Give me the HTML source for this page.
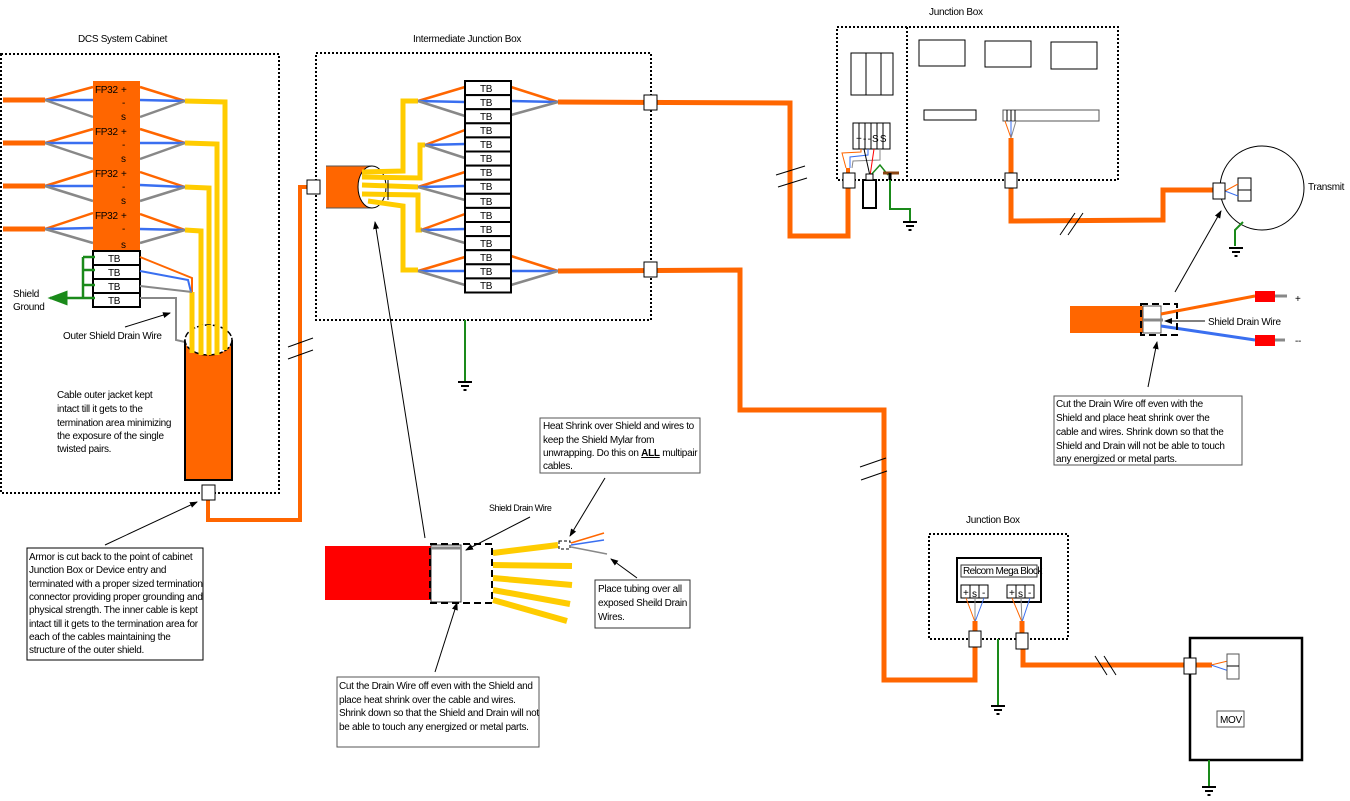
<!DOCTYPE html>
<html><head><meta charset="utf-8"><style>
html,body{margin:0;padding:0;background:#fff}
svg{display:block}
text{font-family:"Liberation Sans",sans-serif;font-size:10px;fill:#000;letter-spacing:-0.3px}
.tb{font-size:10px}
.n{font-size:9px;letter-spacing:-0.45px}
</style></head><body>
<svg width="1350" height="801" viewBox="0 0 1350 801" xmlns="http://www.w3.org/2000/svg">
<defs>
<marker id="ah" markerWidth="8" markerHeight="8" refX="7" refY="4" orient="auto"><path d="M0,1 L8,4 L0,7z" fill="#000"/></marker>
<marker id="ahg" markerWidth="8" markerHeight="8" refX="7" refY="4" orient="auto"><path d="M0,1 L8,4 L0,7z" fill="#1a8a1a"/></marker>
<g id="gnd"><line x1="-7" y1="0" x2="7" y2="0" stroke="#000" stroke-width="2"/><line x1="-4" y1="4" x2="4" y2="4" stroke="#000" stroke-width="2"/><line x1="-1.5" y1="8" x2="1.5" y2="8" stroke="#000" stroke-width="2"/></g>
</defs>

<!-- ===== DCS cabinet ===== -->
<text x="78" y="42">DCS System Cabinet</text>
<rect x="1" y="54" width="278" height="439" fill="none" stroke="#000" stroke-width="2" stroke-dasharray="2,2"/>
<g stroke-width="3" fill="none">
<line x1="3" y1="100" x2="45" y2="100" stroke="#f60" stroke-width="5"/>
<line x1="3" y1="143" x2="45" y2="143" stroke="#f60" stroke-width="5"/>
<line x1="3" y1="186" x2="45" y2="186" stroke="#f60" stroke-width="5"/>
<line x1="3" y1="229" x2="45" y2="229" stroke="#f60" stroke-width="5"/>
</g>
<g stroke-width="2.5">
<line x1="45" y1="100" x2="93" y2="87" stroke="#f60"/><line x1="45" y1="100" x2="93" y2="100" stroke="#3a6ff0"/><line x1="45" y1="100" x2="93" y2="117" stroke="#888"/>
<line x1="45" y1="143" x2="93" y2="129" stroke="#f60"/><line x1="45" y1="143" x2="93" y2="143" stroke="#3a6ff0"/><line x1="45" y1="143" x2="93" y2="159" stroke="#888"/>
<line x1="45" y1="186" x2="93" y2="171" stroke="#f60"/><line x1="45" y1="186" x2="93" y2="186" stroke="#3a6ff0"/><line x1="45" y1="186" x2="93" y2="201" stroke="#888"/>
<line x1="45" y1="229" x2="93" y2="213" stroke="#f60"/><line x1="45" y1="229" x2="93" y2="228" stroke="#3a6ff0"/><line x1="45" y1="229" x2="93" y2="243" stroke="#888"/>
<line x1="140" y1="87" x2="185" y2="101" stroke="#f60"/><line x1="140" y1="100" x2="185" y2="101" stroke="#3a6ff0"/><line x1="140" y1="117" x2="185" y2="101" stroke="#888"/>
<line x1="140" y1="129" x2="185" y2="143" stroke="#f60"/><line x1="140" y1="143" x2="185" y2="143" stroke="#3a6ff0"/><line x1="140" y1="159" x2="185" y2="143" stroke="#888"/>
<line x1="140" y1="172" x2="185" y2="187" stroke="#f60"/><line x1="140" y1="185" x2="185" y2="187" stroke="#3a6ff0"/><line x1="140" y1="201" x2="185" y2="187" stroke="#888"/>
<line x1="140" y1="214" x2="185" y2="230" stroke="#f60"/><line x1="140" y1="229" x2="185" y2="230" stroke="#3a6ff0"/><line x1="140" y1="243" x2="185" y2="230" stroke="#888"/>
</g>
<rect x="93" y="81" width="47" height="171" fill="#f60"/>
<g font-size="10"><text x="95" y="93">FP32</text><text x="121" y="93">+</text><text x="122" y="106">-</text><text x="121" y="120">s</text>
<text x="95" y="135">FP32</text><text x="121" y="135">+</text><text x="122" y="148">-</text><text x="121" y="162">s</text>
<text x="95" y="177">FP32</text><text x="121" y="177">+</text><text x="122" y="190">-</text><text x="121" y="204">s</text>
<text x="95" y="219">FP32</text><text x="121" y="219">+</text><text x="122" y="232">-</text><text x="121" y="248">s</text></g>
<g stroke="#fc0" stroke-width="5" fill="none">
<polyline points="185,101 225,102 225,355"/>
<polyline points="185,143 217,144 217,355"/>
<polyline points="185,187 209,188 209,355"/>
<polyline points="185,230 201,231 201,355"/>
<line x1="192" y1="292" x2="192" y2="355"/>
</g>
<g fill="#fff" stroke="#000" stroke-width="2">
<rect x="93" y="251" width="47" height="14"/><rect x="93" y="265" width="47" height="14"/><rect x="93" y="279" width="47" height="14"/><rect x="93" y="293" width="47" height="14"/></g>
<g class="tb"><text x="108" y="262">TB</text><text x="108" y="276">TB</text><text x="108" y="290">TB</text><text x="108" y="304">TB</text></g>
<g stroke-width="2" fill="none">
<polyline points="140,257 192,278 192,292" stroke="#f60"/>
<polyline points="140,271 188,280 191,292" stroke="#3a6ff0"/>
<line x1="140" y1="286" x2="192" y2="292" stroke="#888"/>
<polyline points="140,298 176,298 176,340 185,342" stroke="#888"/>
</g>
<g stroke="#1a8a1a" stroke-width="2.5" fill="none">
<line x1="83" y1="257" x2="83" y2="298"/>
<line x1="83" y1="257" x2="95" y2="257"/><line x1="83" y1="270" x2="95" y2="270"/><line x1="83" y1="285" x2="95" y2="285"/><line x1="83" y1="298" x2="95" y2="298"/>
<line x1="83" y1="298" x2="50" y2="298" marker-end="url(#ahg)"/>
</g>
<text x="13" y="297">Shield</text><text x="13" y="310">Ground</text>
<text x="63" y="339">Outer Shield Drain Wire</text>
<line x1="125" y1="327" x2="170" y2="313" stroke="#000" marker-end="url(#ah)"/>
<path d="M185,340 L185,480 L232,480 L232,340" fill="#f60" stroke="#000" stroke-width="2"/>
<ellipse cx="208.5" cy="340" rx="23.5" ry="15" fill="#fff" stroke="#000" stroke-width="1.5" stroke-dasharray="6,2"/>
<g stroke="#fc0" stroke-width="5"><line x1="192" y1="325" x2="192" y2="353"/><line x1="201" y1="325" x2="201" y2="355"/><line x1="209" y1="325" x2="209" y2="355"/><line x1="217" y1="325" x2="217" y2="355"/><line x1="225" y1="325" x2="225" y2="350"/></g>
<g class="n"><text x="57" y="398">Cable outer jacket kept</text><text x="57" y="412">intact till it gets to the</text><text x="57" y="426">termination area minimizing</text><text x="57" y="439">the exposure of the single</text><text x="57" y="452">twisted pairs.</text></g>
<polyline points="208,492 208,520 300,520 300,187 313,187" fill="none" stroke="#f60" stroke-width="4"/>
<rect x="202" y="485" width="13" height="15" fill="#fff" stroke="#000"/>
<line x1="288" y1="347" x2="313" y2="338" stroke="#000"/><line x1="288" y1="359" x2="313" y2="350" stroke="#000"/>
<rect x="27" y="548" width="176" height="112" fill="#fff" stroke="#000"/>
<g class="n"><text x="29" y="560">Armor is cut back to the point of cabinet</text><text x="29" y="573">Junction Box or Device entry and</text><text x="29" y="587">terminated with a proper sized termination</text><text x="29" y="600">connector providing proper grounding and</text><text x="29" y="613">physical strength. The inner cable is kept</text><text x="29" y="627">intact till it gets to the termination area for</text><text x="29" y="640">each of the cables maintaining the</text><text x="29" y="653">structure of the outer shield.</text></g>
<line x1="105" y1="545" x2="197" y2="502" stroke="#000" marker-end="url(#ah)"/>

<!-- ===== Intermediate JB ===== -->
<text x="413" y="42">Intermediate Junction Box</text>
<rect x="316" y="53" width="335" height="267" fill="none" stroke="#000" stroke-width="2" stroke-dasharray="2,2"/>
<line x1="465" y1="320" x2="465" y2="381" stroke="#1a8a1a" stroke-width="2"/>
<use href="#gnd" x="465" y="382"/>
<rect x="326" y="166" width="46" height="42" fill="#f60"/>
<line x1="326" y1="166" x2="372" y2="166" stroke="#555"/><line x1="326" y1="208" x2="372" y2="208" stroke="#555"/>
<ellipse cx="372" cy="187" rx="14" ry="21" fill="#fff" stroke="#000"/>
<rect x="307" y="180" width="13" height="14" fill="#fff" stroke="#000"/>
<g stroke="#fc0" stroke-width="5" fill="none">
<polyline points="362,172 403,171 403,101 418,101"/>
<polyline points="362,177 420,178 420,145 425,145"/>
<polyline points="362,185 418,187"/>
<polyline points="362,194 418,195 418,230 422,230"/>
<polyline points="368,201 403,206 403,270 418,270"/>
</g>
<line x1="388" y1="180" x2="388" y2="200" stroke="#000"/>
<g stroke-width="2.5">
<line x1="418" y1="101" x2="465" y2="87" stroke="#f60"/><line x1="418" y1="101" x2="465" y2="102" stroke="#3a6ff0"/><line x1="418" y1="101" x2="465" y2="116" stroke="#888"/>
<line x1="425" y1="145" x2="465" y2="130" stroke="#f60"/><line x1="425" y1="145" x2="465" y2="144" stroke="#3a6ff0"/><line x1="425" y1="145" x2="465" y2="158" stroke="#888"/>
<line x1="418" y1="187" x2="465" y2="172" stroke="#f60"/><line x1="418" y1="187" x2="465" y2="186" stroke="#3a6ff0"/><line x1="418" y1="187" x2="465" y2="200" stroke="#888"/>
<line x1="421" y1="230" x2="465" y2="214" stroke="#f60"/><line x1="421" y1="230" x2="465" y2="229" stroke="#3a6ff0"/><line x1="421" y1="230" x2="465" y2="243" stroke="#888"/>
<line x1="418" y1="271" x2="465" y2="257" stroke="#f60"/><line x1="418" y1="271" x2="465" y2="271" stroke="#3a6ff0"/><line x1="418" y1="271" x2="465" y2="285" stroke="#888"/>
<line x1="511" y1="87" x2="558" y2="102" stroke="#f60"/><line x1="511" y1="101" x2="558" y2="102" stroke="#3a6ff0"/><line x1="511" y1="115" x2="558" y2="102" stroke="#888"/>
<line x1="511" y1="256" x2="558" y2="271" stroke="#f60"/><line x1="511" y1="271" x2="558" y2="271" stroke="#3a6ff0"/><line x1="511" y1="285" x2="558" y2="271" stroke="#888"/>
</g>
<g fill="#fff" stroke="#000" stroke-width="2">
<rect x="465" y="81" width="46" height="14.1"/><rect x="465" y="95.1" width="46" height="14.1"/><rect x="465" y="109.2" width="46" height="14.1"/><rect x="465" y="123.3" width="46" height="14.1"/><rect x="465" y="137.4" width="46" height="14.1"/><rect x="465" y="151.5" width="46" height="14.1"/><rect x="465" y="165.6" width="46" height="14.1"/><rect x="465" y="179.7" width="46" height="14.1"/><rect x="465" y="193.8" width="46" height="14.1"/><rect x="465" y="207.9" width="46" height="14.1"/><rect x="465" y="222" width="46" height="14.1"/><rect x="465" y="236.1" width="46" height="14.1"/><rect x="465" y="250.2" width="46" height="14.1"/><rect x="465" y="264.3" width="46" height="14.1"/><rect x="465" y="278.4" width="46" height="14.1"/></g>
<g class="tb"><text x="480" y="92">TB</text><text x="480" y="106">TB</text><text x="480" y="120">TB</text><text x="480" y="134">TB</text><text x="480" y="148">TB</text><text x="480" y="162">TB</text><text x="480" y="176">TB</text><text x="480" y="190">TB</text><text x="480" y="205">TB</text><text x="480" y="219">TB</text><text x="480" y="233">TB</text><text x="480" y="247">TB</text><text x="480" y="261">TB</text><text x="480" y="275">TB</text><text x="480" y="289">TB</text></g>
<g fill="none" stroke="#f60" stroke-width="5">
<polyline points="558,102 790,103 790,236 848,236 848,188"/>
<polyline points="558,271 740,270 740,410 884,410 884,680 975,680 975,645"/>
<polyline points="1011,188 1011,221 1163,220 1163,190 1215,190"/>
<polyline points="1023,645 1023,665 1185,665"/>
</g>
<rect x="644" y="95" width="13" height="15" fill="#fff" stroke="#000"/>
<rect x="644" y="262" width="13" height="15" fill="#fff" stroke="#000"/>
<g stroke="#000"><line x1="776" y1="175" x2="805" y2="166"/><line x1="778" y1="187" x2="807" y2="178"/>
<line x1="860" y1="467" x2="886" y2="458"/><line x1="861" y1="480" x2="887" y2="471"/>
<line x1="1060" y1="235" x2="1075" y2="213"/><line x1="1068" y1="235" x2="1083" y2="213"/>
<line x1="1095" y1="656" x2="1107" y2="675"/><line x1="1104" y1="656" x2="1116" y2="675"/></g>

<!-- ===== Top Junction Box ===== -->
<text x="929" y="15">Junction Box</text>
<rect x="837" y="27" width="281" height="153" fill="none" stroke="#000" stroke-width="2" stroke-dasharray="2,2"/>
<line x1="907" y1="27" x2="907" y2="180" stroke="#000" stroke-width="2" stroke-dasharray="2,2"/>
<rect x="851" y="53" width="42" height="42" fill="#fff" stroke="#000"/><line x1="866" y1="53" x2="866" y2="95" stroke="#000"/><line x1="881" y1="53" x2="881" y2="95" stroke="#000"/>
<rect x="853" y="123" width="37" height="26" fill="#fff" stroke="#000"/>
<g stroke="#000"><line x1="859" y1="123" x2="859" y2="149"/><line x1="865" y1="123" x2="865" y2="149"/><line x1="871" y1="123" x2="871" y2="149"/><line x1="877" y1="123" x2="877" y2="149"/><line x1="883" y1="123" x2="883" y2="149"/></g>
<text x="856" y="142" font-size="8" style="letter-spacing:-0.8px">+ - - S S</text>
<rect x="919" y="40" width="46" height="26" fill="#fff" stroke="#000"/>
<rect x="985" y="41" width="46" height="26" fill="#fff" stroke="#000"/>
<rect x="1051" y="42" width="46" height="27" fill="#fff" stroke="#000"/>
<rect x="924" y="110" width="52" height="10" fill="#fff" stroke="#000"/>
<rect x="1003" y="110" width="96" height="11" fill="#fff" stroke="#555"/>
<g stroke="#000"><line x1="1007" y1="110" x2="1007" y2="121"/><line x1="1011" y1="110" x2="1011" y2="121"/><line x1="1015" y1="110" x2="1015" y2="121"/></g>
<g stroke-width="1" fill="none">
<polyline points="1005,121 1011,138" stroke="#f60"/><polyline points="1011,121 1011,138" stroke="#3a6ff0"/><polyline points="1016,121 1011,138" stroke="#888"/>
<line x1="1011" y1="138" x2="1011" y2="175" stroke="#f60" stroke-width="5"/>
<polyline points="846,168 842,153 861,152 861,149" stroke="#f60"/>
<polyline points="850,168 850,157 868,155 868,149" stroke="#3a6ff0"/>
<polyline points="852,168 853,161 880,160 880,149" stroke="#888"/>
<line x1="864" y1="149" x2="870" y2="176" stroke="#000"/><line x1="874" y1="149" x2="870" y2="176" stroke="red"/>
<polyline points="870,176 880,165 888,175" stroke="#1a8a1a" stroke-width="1.5"/>
</g>
<line x1="848" y1="168" x2="848" y2="176" stroke="#f60" stroke-width="4"/>
<rect x="843" y="173" width="12" height="15" fill="#fff" stroke="#000"/>
<rect x="1005" y="173" width="12" height="15" fill="#fff" stroke="#000"/>
<rect x="863" y="180" width="13" height="28" fill="#fff" stroke="#000" stroke-width="2"/>
<rect x="866" y="174" width="7" height="6" fill="#fff" stroke="#000"/>
<line x1="883" y1="173" x2="899" y2="173" stroke="#8b4513" stroke-width="3"/>
<line x1="890" y1="173" x2="890" y2="180" stroke="#000" stroke-width="3"/>
<polyline points="890,180 890,209 910,209 910,221" fill="none" stroke="#1a8a1a" stroke-width="2"/>
<use href="#gnd" x="910" y="222"/>

<!-- Transmitter -->
<circle cx="1262" cy="188" r="42" fill="#fff" stroke="#000"/>
<rect x="1238" y="178" width="13" height="23" fill="#fff" stroke="#000"/><line x1="1238" y1="190" x2="1251" y2="190" stroke="#000"/>
<line x1="1225" y1="191" x2="1238" y2="184" stroke="#f60"/><line x1="1225" y1="191" x2="1238" y2="196" stroke="#3a6ff0"/>
<rect x="1213" y="183" width="12" height="16" fill="#fff" stroke="#000"/>
<text x="1308" y="190">Transmit</text>
<polyline points="1243,222 1235,230 1235,246" fill="none" stroke="#1a8a1a" stroke-width="2"/>
<use href="#gnd" x="1236" y="248"/>
<line x1="1175" y1="292" x2="1221" y2="211" stroke="#000" marker-end="url(#ah)"/>

<!-- right detail -->
<rect x="1070" y="306" width="73" height="27" fill="#f60"/>
<rect x="1143" y="306" width="34" height="27" fill="#fff"/>
<rect x="1143" y="306" width="18" height="27" fill="#fff" stroke="#555"/>
<line x1="1143" y1="320" x2="1163" y2="320" stroke="#888" stroke-width="3"/>
<line x1="1161" y1="314" x2="1255" y2="296" stroke="#f60" stroke-width="3"/>
<line x1="1161" y1="326" x2="1255" y2="340" stroke="#3a6ff0" stroke-width="3"/>
<rect x="1141" y="304" width="36" height="31" fill="none" stroke="#000" stroke-width="2" stroke-dasharray="7,4"/>
<rect x="1255" y="291" width="20" height="11" fill="red"/><line x1="1275" y1="296" x2="1287" y2="296" stroke="#888" stroke-width="3"/>
<rect x="1255" y="335" width="20" height="11" fill="red"/><line x1="1275" y1="340" x2="1285" y2="340" stroke="#888" stroke-width="3"/>
<text x="1295" y="302">+</text><text x="1295" y="344">--</text>
<text x="1208" y="325">Shield Drain  Wire</text>
<line x1="1205" y1="321" x2="1165" y2="321" stroke="#000" marker-end="url(#ah)"/>
<line x1="1148" y1="387" x2="1157" y2="342" stroke="#000" marker-end="url(#ah)"/>
<rect x="1054" y="396" width="188" height="69" fill="#fff" stroke="#555"/>
<g font-size="9.5" style="letter-spacing:-0.2px"><text x="1056" y="407">Cut the Drain Wire off even with the</text><text x="1056" y="421">Shield and place heat shrink over the</text><text x="1056" y="435">cable and wires. Shrink down so that the</text><text x="1056" y="449">Shield and Drain will not be able to touch</text><text x="1056" y="462">any energized or metal parts.</text></g>

<!-- bottom detail -->
<rect x="325" y="546" width="106" height="54" fill="red"/>
<rect x="431" y="545" width="30" height="57" fill="#fff" stroke="#333"/>
<line x1="431" y1="548" x2="461" y2="548" stroke="#888" stroke-width="3"/>
<g stroke="#fc0" stroke-width="6">
<line x1="493" y1="553" x2="558" y2="545"/><line x1="493" y1="565" x2="572" y2="566"/><line x1="493" y1="578" x2="572" y2="585"/><line x1="493" y1="590" x2="570" y2="604"/><line x1="493" y1="600" x2="567" y2="621"/></g>
<rect x="430" y="544" width="62" height="59" fill="none" stroke="#000" stroke-width="2" stroke-dasharray="7,4"/>
<rect x="559" y="541" width="11" height="8" fill="#fff" stroke="#000" stroke-dasharray="3,2"/>
<line x1="571" y1="543" x2="604" y2="533" stroke="#f60" stroke-width="1.5"/>
<line x1="571" y1="545" x2="604" y2="540" stroke="#3a6ff0" stroke-width="1.5"/>
<line x1="571" y1="547" x2="607" y2="554" stroke="#888" stroke-width="1.5"/>
<text x="489" y="511" class="n">Shield Drain Wire</text>
<line x1="530" y1="517" x2="466" y2="550" stroke="#000" marker-end="url(#ah)"/>
<line x1="425" y1="538" x2="375" y2="222" stroke="#000" marker-end="url(#ah)"/>
<rect x="540" y="418" width="160" height="55" fill="#fff" stroke="#555"/>
<g class="n"><text x="543" y="429">Heat Shrink over Shield and wires to</text><text x="543" y="443">keep the Shield Mylar from</text><text x="543" y="456">unwrapping. Do this on <tspan font-weight="bold" text-decoration="underline">ALL</tspan> multipair</text><text x="543" y="469">cables.</text></g>
<line x1="605" y1="478" x2="570" y2="536" stroke="#000" marker-end="url(#ah)"/>
<rect x="595" y="580" width="95" height="48" fill="#fff" stroke="#333"/>
<g class="n"><text x="598" y="592">Place tubing over all</text><text x="598" y="606">exposed Sheild Drain</text><text x="598" y="620">Wires.</text></g>
<line x1="637" y1="578" x2="611" y2="559" stroke="#000" marker-end="url(#ah)"/>
<line x1="435" y1="672" x2="457" y2="603" stroke="#000" marker-end="url(#ah)"/>
<rect x="337" y="677" width="202" height="70" fill="#fff" stroke="#555"/>
<g class="n"><text x="339" y="689">Cut the Drain Wire off even with the Shield and</text><text x="339" y="703">place heat shrink over the cable and wires.</text><text x="339" y="716">Shrink down so that the Shield and Drain will not</text><text x="339" y="730">be able to touch any energized or metal parts.</text></g>

<!-- bottom Junction Box -->
<text x="966" y="523">Junction Box</text>
<rect x="929" y="534" width="139" height="105" fill="none" stroke="#000" stroke-width="2" stroke-dasharray="2,2"/>
<rect x="957" y="558" width="84" height="44" fill="#fff" stroke="#000" stroke-width="2"/>
<rect x="961" y="565" width="76" height="12" fill="#fff" stroke="#333"/>
<text x="963" y="574" font-size="8" style="letter-spacing:-0.6px">Relcom Mega Block</text>
<g fill="#fff" stroke="#000"><rect x="961" y="585" width="9" height="13"/><rect x="970" y="585" width="9" height="13"/><rect x="979" y="585" width="9" height="13"/><rect x="1007" y="585" width="9" height="13"/><rect x="1016" y="585" width="9" height="13"/><rect x="1025" y="585" width="9" height="13"/></g>
<g font-size="9"><text x="963" y="596">+</text><text x="972" y="597">s</text><text x="982" y="596">-</text><text x="1009" y="596">+</text><text x="1018" y="597">s</text><text x="1028" y="596">-</text></g>
<g stroke-width="1">
<line x1="966" y1="598" x2="975" y2="622" stroke="#f60"/><line x1="975" y1="598" x2="975" y2="622" stroke="#888"/><line x1="984" y1="598" x2="975" y2="622" stroke="#3a6ff0"/>
<line x1="1012" y1="598" x2="1022" y2="622" stroke="#f60"/><line x1="1021" y1="598" x2="1022" y2="622" stroke="#888"/><line x1="1030" y1="598" x2="1022" y2="622" stroke="#3a6ff0"/></g>
<line x1="975" y1="621" x2="975" y2="632" stroke="#f60" stroke-width="5"/>
<line x1="1022" y1="621" x2="1022" y2="634" stroke="#f60" stroke-width="5"/>
<rect x="969" y="631" width="12" height="16" fill="#fff" stroke="#000"/>
<rect x="1016" y="633" width="12" height="16" fill="#fff" stroke="#000"/>
<line x1="998" y1="639" x2="998" y2="705" stroke="#1a8a1a" stroke-width="2"/>
<use href="#gnd" x="998" y="706"/>

<!-- MOV -->
<rect x="1190" y="638" width="112" height="122" fill="#fff" stroke="#000" stroke-width="2.5"/>
<line x1="1191" y1="665" x2="1212" y2="665" stroke="#f60" stroke-width="5"/>
<line x1="1211" y1="665" x2="1232" y2="660" stroke="#f60"/><line x1="1211" y1="665" x2="1232" y2="672" stroke="#3a6ff0"/>
<rect x="1227" y="654" width="12" height="25" fill="#fff" stroke="#555"/><line x1="1227" y1="666" x2="1239" y2="666" stroke="#000"/>
<rect x="1184" y="658" width="12" height="16" fill="#fff" stroke="#000"/>
<rect x="1217" y="711" width="27" height="16" fill="#fff" stroke="#555"/>
<text x="1220" y="723">MOV</text>
<line x1="1209" y1="760" x2="1209" y2="786" stroke="#1a8a1a" stroke-width="2"/>
<use href="#gnd" x="1209" y="787"/>
</svg>
</body></html>
